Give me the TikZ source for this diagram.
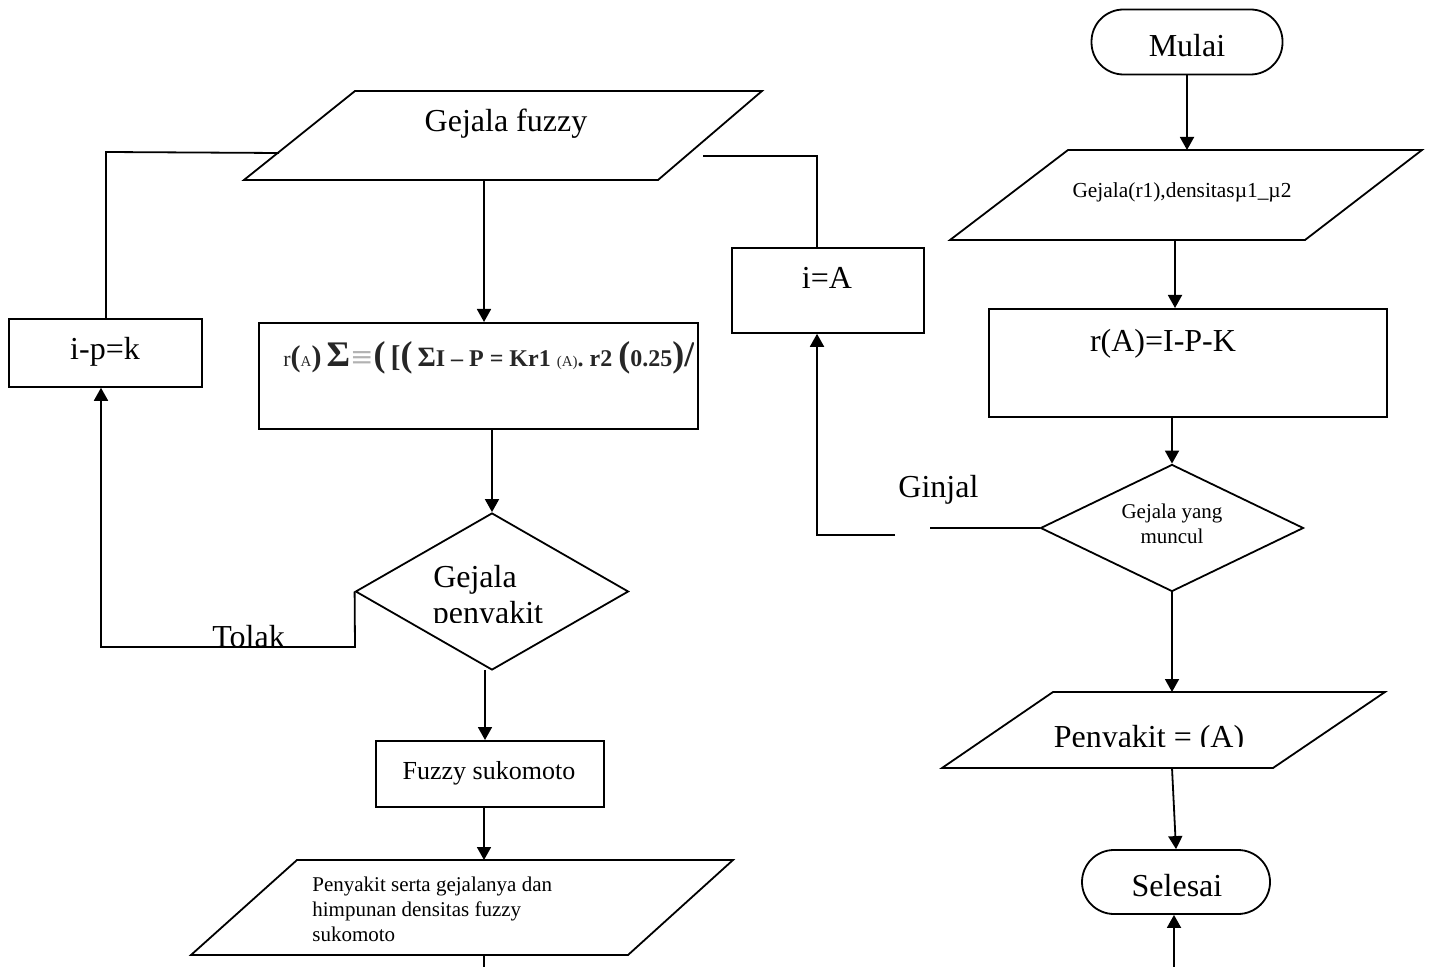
\documentclass[tikz,border=0pt]{standalone}
\usepackage{fontspec}
\setmainfont{Liberation Serif}
\newfontfamily\symfont{DejaVu Serif}
\usetikzlibrary{arrows.meta,shapes.geometric}
\begin{document}
\begin{tikzpicture}[x=0.5pt,y=-0.5pt,
  ln/.style={line width=0.9pt},
  arr/.style={ln,-{Triangle[length=6.5pt,width=7pt]}},
  boxshape/.style={draw,ln,rectangle,inner sep=0pt,anchor=north west},
  decision/.style={draw,ln,diamond,inner sep=0pt},
  terminal/.style={draw,ln,rectangle,rounded corners=16pt,inner sep=0pt},
  txt/.style={inner sep=0pt,anchor=base},
  big/.style={font=\fontsize{16}{19}\selectfont},
  mid/.style={font=\fontsize{13}{15}\selectfont},
  small/.style={font=\fontsize{10.5}{12.5}\selectfont}]
\useasboundingbox (0,0) rectangle (1434,967);

% ---------------- right column ----------------
\node[terminal,minimum width=95.5pt,minimum height=32.5pt] (mulai) at (1187,42) {};
\node[txt,big] (tmulai) at (1187,57) {Mulai};

% input parallelogram
\draw[ln] (1068,150) -- (1422,150) -- (1305,240) -- (950,240) -- cycle;
\coordinate (p2top) at (1187,150);
\coordinate (p2bot) at (1175,240);
\node[txt,font=\fontsize{10.7}{12}\selectfont] (tp2) at (1182,198) {Gejala(r1),densitasµ1\_µ2};

\node[boxshape,minimum width=199pt,minimum height=54pt] (rA) at (988,308) {};
\node[txt,big] (trA) at (1163,352) {r(A)=I-P-K};

\node[decision,minimum width=131.5pt,minimum height=63.5pt] (d2) at (1172,528) {};
\node[txt,small] (td2a) at (1172,518) {Gejala yang};
\node[txt,small] (td2b) at (1172,544) {muncul};

% output parallelogram
\draw[ln] (1053,692) -- (1385,692) -- (1273,768) -- (942,768) -- cycle;
\coordinate (p3top) at (1172,692);
\coordinate (p3bot) at (1172,768);
\begin{scope}
  \clip (1000,700) rectangle (1300,746);
  \node[txt,big] (tp3) at (1149,747) {Penyakit = (A)};
\end{scope}

\node[terminal,minimum width=94pt,minimum height=32pt] (selesai) at (1176,882) {};
\node[txt,big] (tselesai) at (1177,896) {Selesai};
\coordinate (sbot) at (1174,967);

\draw[arr] (mulai.south) -- (p2top);
\draw[arr] (p2bot) -- (p2bot |- rA.north);
\draw[arr] (rA.south -| d2.north) -- (d2.north);
\draw[arr] (d2.south) -- (p3top);
\draw[arr] (p3bot) -- (selesai.north);
\draw[arr] (sbot) -- (sbot |- selesai.south);

% Ginjal branch
\node[boxshape,minimum width=96pt,minimum height=42.5pt] (iA) at (731,247) {};
\node[txt,big] (tiA) at (827,289) {i=A};
\node[txt,big,anchor=base west] (ginjal) at (898,498) {Ginjal};
\coordinate (g1) at (930,528);
\coordinate (g2) at (895,535);
\coordinate (g3) at (817,535);
\draw[ln] (d2.west) -- (g1);
\draw[arr] (g2) -- (g3) -- (g3 |- iA.south);
\coordinate (a1) at (817,156);
\coordinate (a2) at (703,156);
\draw[ln] (a1 |- iA.north) -- (a1) -- (a2);

% ---------------- left column ----------------
\draw[ln] (355,91) -- (762,91) -- (658,180) -- (244,180) -- cycle;
\coordinate (p1top) at (507,91);
\coordinate (p1bot) at (484,180);
\coordinate (p1left) at (279,153);
\node[txt,big] (tp1) at (506,132) {Gejala fuzzy};

\node[boxshape,minimum width=219.5pt,minimum height=53pt] (fbox) at (258,322) {};
% formula, cut off at the right border of its box
\begin{scope}
  \clip (270,330) rectangle (693,380);
  \node[txt,anchor=base west,text=black!85] (tf) at (283,367)
  {{\fontsize{11}{13}\selectfont r}{\fontsize{15}{17}\selectfont\bfseries(}{\fontsize{7.5}{9}\selectfont A}{\fontsize{15}{17}\selectfont\bfseries)}
   {\fontsize{18}{20}\selectfont\bfseries Σ}{\symfont\color{black!30}\fontsize{14}{16}\selectfont ≡}{\fontsize{18}{20}\selectfont\bfseries (}
   {\fontsize{15}{17}\selectfont\bfseries [}{\fontsize{18}{20}\selectfont\bfseries (}
   {\fontsize{14}{16}\selectfont\bfseries Σ}{\fontsize{12}{14}\selectfont\bfseries I – P = Kr1 }{\fontsize{7.5}{9}\selectfont(A)}{\fontsize{12}{14}\selectfont\bfseries . r2 }{\fontsize{18}{20}\selectfont\bfseries (}{\fontsize{12}{14}\selectfont\bfseries 0.25}{\fontsize{18}{20}\selectfont\bfseries )/}};
\end{scope}

\node[decision,minimum width=136.5pt,minimum height=78.5pt] (d1) at (492,591.5) {};
\node[txt,big] (td1a) at (475,587) {Gejala};
\begin{scope}
  \clip (400,595) rectangle (600,622);
  \node[txt,big] (td1b) at (488,623) {penyakit};
\end{scope}

\node[boxshape,minimum width=114pt,minimum height=33pt] (fs) at (375,740) {};
\node[txt,mid] (tfs) at (489,779) {Fuzzy sukomoto};

\draw[ln] (733,860) -- (297,860) -- (191,955) -- (628,955) -- cycle;
\coordinate (p4top) at (484,860);
\coordinate (p4bot) at (484,955);
\coordinate (p4end) at (484,967);
\node[txt,anchor=base west,small] (tp4a) at (312,891) {Penyakit serta gejalanya dan};
\node[txt,anchor=base west,small] (tp4b) at (312,916) {himpunan densitas fuzzy};
\node[txt,anchor=base west,small] (tp4c) at (312,941) {sukomoto};

\node[boxshape,minimum width=96.5pt,minimum height=34pt] (ipk) at (8,318) {};
\node[txt,big] (tipk) at (105,360) {i-p=k};

\coordinate (t1) at (355,647);
\coordinate (t2) at (101,647);
\node[txt,big,anchor=base west] (tolak) at (212,647) {Tolak};

\draw[arr] (p1bot) -- (p1bot |- fbox.north);
\draw[arr] (fbox.south -| d1.north) -- (d1.north);
\draw[arr] (485,670) -- (485,740);
\draw[arr] (fs.south -| p4top) -- (p4top);
\draw[ln] (p4bot) -- (p4end);
\draw[arr] (d1.west) -- (t1) -- (t2) -- (t2 |- ipk.south);
\coordinate (b1) at (106,152);
\draw[ln] (p1left) -- (b1) -- (b1 |- ipk.north);
\end{tikzpicture}
\end{document}
